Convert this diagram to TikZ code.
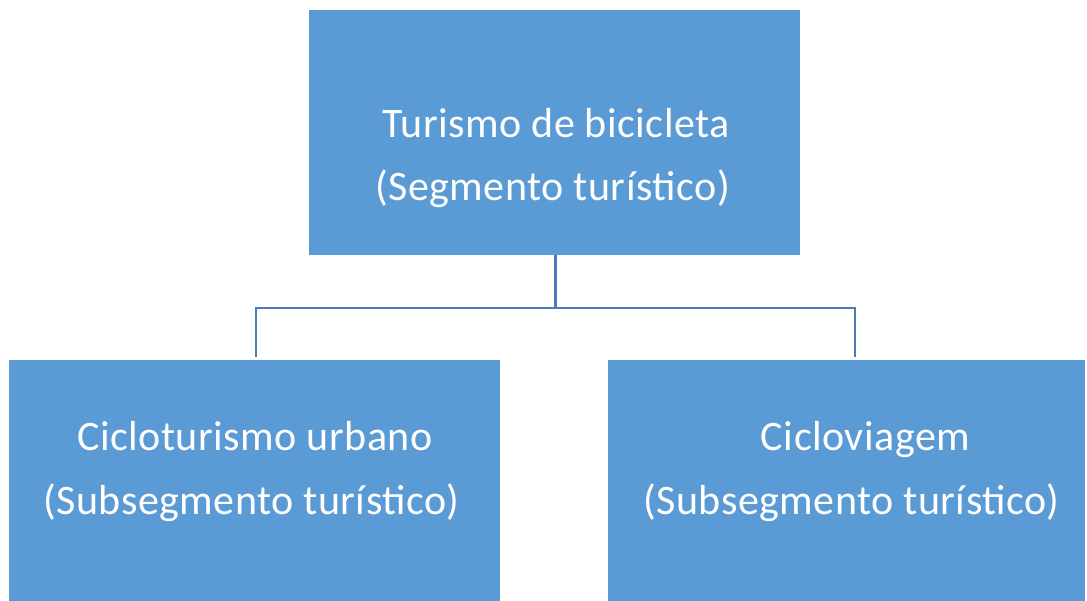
\documentclass[tikz,border=0pt]{standalone}
\usepackage{fontspec}
\setmainfont{Carlito}[LetterSpace=1.2]
\definecolor{boxblue}{HTML}{5B9BD5}
\definecolor{lineblue}{HTML}{4A7DB8}
\begin{document}
\begin{tikzpicture}[x=1pt,y=-1pt,
  box/.style={fill=boxblue,draw=none,inner sep=0pt},
  txt/.style={text=white,font=\fontsize{42}{50}\selectfont,anchor=base,inner sep=0pt},
  conn/.style={draw=lineblue,line width=2.6pt}]
\useasboundingbox (0,0) rectangle (1087,600);
\fill[white] (0,0) rectangle (1087,600);
\node[box,minimum width=491pt,minimum height=245pt] (top) at (554.5,132.5) {};
\node[box,minimum width=491pt,minimum height=260pt] (left) at (254.5,490) {};
\node[box,minimum width=477pt,minimum height=260pt] (right) at (846.5,490) {};
\node[txt] (t1) at (556,137) {Turismo de bicicleta};
\node[txt] (t2) at (552.5,200) {(Segmento turístico)};
\node[txt] (l1) at (255,450) {Cicloturismo urbano};
\node[txt] (l2) at (251.5,514) {(Subsegmento turístico)};
\node[txt] (r1) at (865.5,450) {Cicloviagem};
\node[txt] (r2) at (851.5,514) {(Subsegmento turístico)};
\coordinate (mid) at (555.7,308);
\coordinate (lt) at (256,357);
\coordinate (rt) at (855,357);
\draw[conn] (top.south -| mid) -- (mid);
\draw[conn] (lt) |- (mid) -| (rt);
\end{tikzpicture}
\end{document}
